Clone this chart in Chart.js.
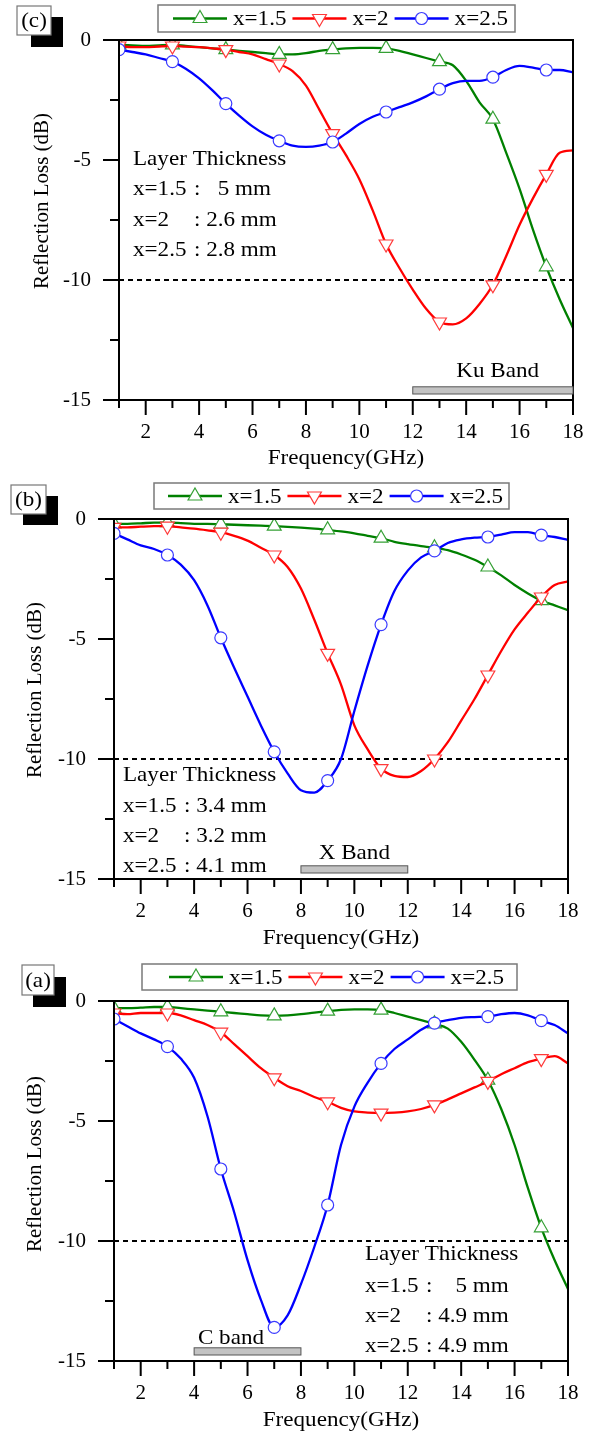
<!DOCTYPE html>
<html lang="en">
<head>
<meta charset="UTF-8">
<title>Reflection Loss vs Frequency</title>
<script src="https://cdn.jsdelivr.net/npm/chart.js"></script>
<style>
    body { margin: 0; background: #fff; }
    canvas { position: absolute; left: 0; }
</style>
</head>
<body>
<canvas id="chartC" width="596" height="479" style="top:0px"></canvas>
<canvas id="chartB" width="596" height="482" style="top:479px"></canvas>
<canvas id="chartA" width="596" height="473" style="top:961px"></canvas>

<script>
// frequency samples (GHz), markers sit on the odd values
const freq = [1, 1.5, 2, 2.5, 3, 3.5, 4, 4.5, 5, 5.5, 6, 6.5, 7, 7.5, 8, 8.5, 9,
    9.5, 10, 10.5, 11, 11.5, 12, 12.5, 13, 13.5, 14, 14.5, 15, 15.5, 16, 16.5, 17, 17.5, 18];
const seriesLabels = ["x=1.5", "x=2", "x=2.5"];

// panel (c)
const rlC15 = [-0.2, -0.22, -0.25, -0.22, -0.2, -0.25, -0.3, -0.35, -0.4, -0.45, -0.5, -0.55, -0.6, -0.6, -0.55, -0.45, -0.4,
    -0.35, -0.33, -0.33, -0.35, -0.45, -0.6, -0.75, -0.9, -1.05, -1.7, -2.6, -3.3, -4.7, -6.2, -7.9, -9.45, -10.8, -12.0];
const rlC2 = [-0.25, -0.3, -0.3, -0.27, -0.25, -0.28, -0.3, -0.35, -0.4, -0.5, -0.6, -0.8, -1.0, -1.3, -1.9, -2.9, -3.9,
    -4.8, -5.8, -7.1, -8.5, -9.5, -10.4, -11.2, -11.75, -11.85, -11.6, -11.0, -10.2, -9.0, -7.7, -6.6, -5.6, -4.7, -4.6];
const rlC25 = [-0.4, -0.5, -0.6, -0.75, -0.9, -1.2, -1.6, -2.1, -2.65, -3.15, -3.6, -3.95, -4.2, -4.4, -4.45, -4.4, -4.25,
    -3.9, -3.5, -3.2, -3.0, -2.8, -2.6, -2.35, -2.05, -1.8, -1.7, -1.7, -1.55, -1.25, -1.08, -1.15, -1.25, -1.25, -1.35];

// panel (b)
const rlB15 = [-0.2, -0.2, -0.18, -0.15, -0.15, -0.17, -0.2, -0.2, -0.22, -0.24, -0.26, -0.28, -0.3, -0.33, -0.36, -0.4, -0.45,
    -0.52, -0.6, -0.7, -0.8, -0.95, -1.05, -1.13, -1.2, -1.3, -1.48, -1.7, -2.0, -2.35, -2.75, -3.1, -3.4, -3.6, -3.8];
const rlB2 = [-0.35, -0.35, -0.32, -0.3, -0.3, -0.35, -0.4, -0.47, -0.55, -0.7, -0.9, -1.2, -1.5, -2.0, -2.9, -4.2, -5.6,
    -6.9, -8.6, -9.6, -10.4, -10.7, -10.75, -10.5, -10.0, -9.3, -8.4, -7.5, -6.5, -5.5, -4.6, -3.9, -3.25, -2.75, -2.6];
const rlB25 = [-0.6, -0.85, -1.1, -1.25, -1.5, -1.9, -2.55, -3.6, -4.95, -6.2, -7.4, -8.6, -9.7, -10.6, -11.3, -11.4, -10.9,
    -10.0, -8.0, -6.1, -4.4, -3.0, -2.15, -1.6, -1.33, -1.0, -0.85, -0.78, -0.75, -0.65, -0.55, -0.55, -0.67, -0.75, -0.87];

// panel (a)
const rlA15 = [-0.3, -0.3, -0.28, -0.25, -0.25, -0.3, -0.35, -0.4, -0.45, -0.5, -0.55, -0.6, -0.62, -0.6, -0.55, -0.48, -0.42,
    -0.37, -0.35, -0.35, -0.38, -0.5, -0.65, -0.8, -0.95, -1.15, -1.7, -2.45, -3.3, -4.5, -6.0, -7.8, -9.45, -10.8, -12.0];
const rlA2 = [-0.5, -0.55, -0.5, -0.5, -0.5, -0.6, -0.8, -1.0, -1.3, -1.8, -2.3, -2.8, -3.2, -3.55, -3.75, -4.0, -4.2,
    -4.45, -4.6, -4.65, -4.67, -4.65, -4.6, -4.5, -4.33, -4.1, -3.85, -3.6, -3.35, -3.05, -2.8, -2.55, -2.4, -2.3, -2.6];
const rlA25 = [-0.75, -1.05, -1.35, -1.6, -1.9, -2.4, -3.2, -4.8, -7.0, -8.8, -10.8, -12.45, -13.6, -13.1, -11.8, -10.25, -8.5,
    -6.0, -4.4, -3.4, -2.6, -2.0, -1.6, -1.2, -0.92, -0.8, -0.7, -0.67, -0.65, -0.55, -0.5, -0.6, -0.82, -1.0, -1.35];

// layer thickness notes and absorption bands
const thickLabels = ["x=1.5", "x=2", "x=2.5"];
const thickC = [":   5 mm", ": 2.6 mm", ": 2.8 mm"];
const thickB = [": 3.4 mm", ": 3.2 mm", ": 4.1 mm"];
const thickA = [":    5 mm", ": 4.9 mm", ": 4.9 mm"];
const bandC = [12, 18], bandB = [8, 12], bandA = [4, 8];
const refLevel = -10;

const serif = '"Liberation Serif", "Times New Roman", serif';
const lineColors = ["#008000", "#ff0000", "#0000ff"];
const markColors = ["#35a035", "#ff3a3a", "#3a3aff"];
const markStyles = ["triangle", "triangle", "circle"];
const markRot = [0, 180, 0];
const markRad = [8, 8, 6];

// slightly wide serif text, like the scanned figure
function wideText(ctx, str, x, y, align) {
    ctx.save();
    ctx.translate(x, y);
    ctx.scale(1.1, 1);
    ctx.textAlign = align || "left";
    ctx.textBaseline = "middle";
    ctx.fillText(str, 0, 0);
    ctx.restore();
}

function drawMark(ctx, i, x, y) {
    const r = markRad[i];
    ctx.save();
    ctx.fillStyle = "#fff";
    ctx.strokeStyle = markColors[i];
    ctx.lineWidth = 1.2;
    ctx.beginPath();
    if (markStyles[i] === "circle") {
        ctx.arc(x, y, r, 0, Math.PI * 2);
    } else {
        const s = markRot[i] ? -1 : 1;
        ctx.moveTo(x, y - s * r);
        ctx.lineTo(x + r * 0.866, y + s * r / 2);
        ctx.lineTo(x - r * 0.866, y + s * r / 2);
        ctx.closePath();
    }
    ctx.fill();
    ctx.stroke();
    ctx.restore();
}

const decor = {
    id: "decor",
    beforeDatasetsDraw(chart, args, p) {
        const { ctx, chartArea: a, scales: { y } } = chart;
        const yy = y.getPixelForValue(refLevel);
        ctx.save();
        ctx.setLineDash([5, 4]);
        ctx.lineWidth = 2.2;
        ctx.strokeStyle = "#000";
        ctx.beginPath();
        ctx.moveTo(a.left, yy);
        ctx.lineTo(a.right, yy);
        ctx.stroke();
        ctx.restore();
    },
    afterDraw(chart, args, p) {
        const { ctx, chartArea: a, scales: { x, y } } = chart;
        ctx.save();
        ctx.strokeStyle = "#000";
        ctx.fillStyle = "#000";
        ctx.lineWidth = 2;

        // frame and outward ticks
        ctx.strokeRect(a.left, a.top, a.right - a.left, a.bottom - a.top);
        ctx.beginPath();
        for (let f = 1; f <= 18; f++) {
            const px = x.getPixelForValue(f);
            ctx.moveTo(px, a.bottom);
            ctx.lineTo(px, a.bottom + (f % 2 === 0 ? 15 : 8));
        }
        for (let v = 0; v >= -15; v -= 2.5) {
            const py = y.getPixelForValue(v);
            ctx.moveTo(a.left, py);
            ctx.lineTo(a.left - (v % 5 === 0 ? 16 : 9), py);
        }
        ctx.stroke();

        // band bar + name
        const b0 = x.getPixelForValue(p.band[0]), b1 = x.getPixelForValue(p.band[1]);
        const bt = y.getPixelForValue(-14.45), bb = y.getPixelForValue(-14.75);
        ctx.fillStyle = "#c3c3c3";
        ctx.fillRect(b0, bt, b1 - b0, bb - bt);
        ctx.lineWidth = 1;
        ctx.strokeStyle = "#555";
        ctx.strokeRect(b0, bt, b1 - b0, bb - bt);
        ctx.fillStyle = "#000";
        ctx.font = "21px " + serif;
        wideText(ctx, p.bandName, x.getPixelForValue(p.bandAt[0]), y.getPixelForValue(p.bandAt[1]), "center");

        // layer thickness notes
        wideText(ctx, "Layer Thickness", p.noteX, p.noteY[0]);
        thickLabels.forEach((lab, i) => {
            wideText(ctx, lab, p.noteX, p.noteY[i + 1]);
            wideText(ctx, p.notes[i], p.noteX + 61, p.noteY[i + 1]);
        });

        // axis titles
        wideText(ctx, "Frequency(GHz)", (a.left + a.right) / 2, p.xTitleY, "center");
        ctx.save();
        ctx.translate(p.yTitle[0], p.yTitle[1]);
        ctx.rotate(-Math.PI / 2);
        ctx.textAlign = "center";
        ctx.textBaseline = "middle";
        ctx.fillText("Reflection Loss (dB)", 0, 0);
        ctx.restore();

        // panel tag with black shadow
        const t = p.tagBox, s = p.shadow;
        ctx.fillStyle = "#000";
        ctx.fillRect(s[0], s[1], s[2], s[3]);
        ctx.fillStyle = "#fff";
        ctx.fillRect(t[0], t[1], t[2], t[3]);
        ctx.strokeStyle = "#777";
        ctx.lineWidth = 1.2;
        ctx.strokeRect(t[0], t[1], t[2], t[3]);
        ctx.fillStyle = "#000";
        wideText(ctx, p.tag, t[0] + t[2] / 2, t[1] + t[3] / 2 + 1, "center");

        // legend box
        const L = p.legendBox;
        ctx.fillStyle = "#fff";
        ctx.fillRect(L[0], L[1], L[2], L[3]);
        ctx.strokeStyle = "#7a7a7a";
        ctx.lineWidth = 1.5;
        ctx.strokeRect(L[0], L[1], L[2], L[3]);
        const cy = L[1] + L[3] / 2;
        let cx = p.legendStart;
        chart.data.datasets.forEach((ds, i) => {
            ctx.strokeStyle = ds.borderColor;
            ctx.lineWidth = 2.3;
            ctx.beginPath();
            ctx.moveTo(cx, cy);
            ctx.lineTo(cx + 54, cy);
            ctx.stroke();
            drawMark(ctx, i, cx + 27, cy);
            ctx.fillStyle = "#000";
            wideText(ctx, ds.label, cx + 60, cy + 1);
            cx += 60 + ctx.measureText(ds.label).width * 1.1 + 6;
        });
        ctx.restore();
    }
};

// invisible tick marks only push the labels away from the axis
const hiddenGrid = len => ({
    display: true, drawOnChartArea: false, drawTicks: true,
    tickLength: len, tickColor: "rgba(0,0,0,0)"
});

function makeChart(id, values, p) {
    return new Chart(document.getElementById(id), {
        type: "line",
        data: {
            datasets: values.map((vals, i) => ({
                label: seriesLabels[i],
                data: freq.map((f, k) => ({ x: f, y: vals[k] })),
                borderColor: lineColors[i],
                borderWidth: 2.3,
                cubicInterpolationMode: "monotone",
                pointStyle: markStyles[i],
                pointRotation: markRot[i],
                pointRadius: c => (freq[c.dataIndex] % 2 === 1 ? markRad[i] : 0),
                pointHoverRadius: 0,
                pointBackgroundColor: "#fff",
                pointBorderColor: markColors[i],
                pointBorderWidth: 1.2,
                order: 3 - i
            }))
        },
        options: {
            responsive: false,
            animation: false,
            devicePixelRatio: 1,
            layout: { padding: { left: 0, right: 596 - p.right, top: 40, bottom: 0 } },
            plugins: { legend: { display: false }, tooltip: { enabled: false }, decor: p },
            scales: {
                x: {
                    type: "linear", min: 1, max: 18,
                    grid: hiddenGrid(20),
                    border: { display: false },
                    ticks: {
                        stepSize: 1, autoSkip: false, maxRotation: 0, padding: 0, color: "#000",
                        font: { family: serif, size: 21 },
                        callback: v => (v % 2 === 0 ? v : "")
                    },
                    afterFit: s => { s.height = p.height - 400; }
                },
                y: {
                    min: -15, max: 0,
                    grid: hiddenGrid(28),
                    border: { display: false },
                    ticks: { stepSize: 5, padding: 0, color: "#000", font: { family: serif, size: 21 } },
                    afterFit: s => { s.width = p.left; }
                }
            }
        },
        plugins: [decor]
    });
}

makeChart("chartC", [rlC15, rlC2, rlC25], {
    tag: "(c)", height: 479, left: 119, right: 573,
    tagBox: [17, 6, 34, 29], shadow: [31, 17, 32, 30],
    legendBox: [158, 5, 357, 27], legendStart: 173,
    yTitle: [42, 201], xTitleY: 458,
    notes: thickC, noteX: 133, noteY: [159, 189, 220, 250],
    band: bandC, bandName: "Ku Band", bandAt: [15.18, -13.83]
});

makeChart("chartB", [rlB15, rlB2, rlB25], {
    tag: "(b)", height: 482, left: 114, right: 568,
    tagBox: [11, 6, 35, 29], shadow: [23, 17, 35, 29],
    legendBox: [154, 4, 355, 26], legendStart: 168,
    yTitle: [35, 211], xTitleY: 459,
    notes: thickB, noteX: 123, noteY: [296, 327, 357, 387],
    band: bandB, bandName: "X Band", bandAt: [10.0, -13.92]
});

makeChart("chartA", [rlA15, rlA2, rlA25], {
    tag: "(a)", height: 473, left: 114, right: 568,
    tagBox: [22, 4, 32, 30], shadow: [33, 16, 33, 30],
    legendBox: [142, 3, 375, 26], legendStart: 169,
    yTitle: [35, 203], xTitleY: 459,
    notes: thickA, noteX: 365, noteY: [293, 325, 355, 385],
    band: bandA, bandName: "C band", bandAt: [5.38, -14.08]
});
</script>
</body>
</html>
